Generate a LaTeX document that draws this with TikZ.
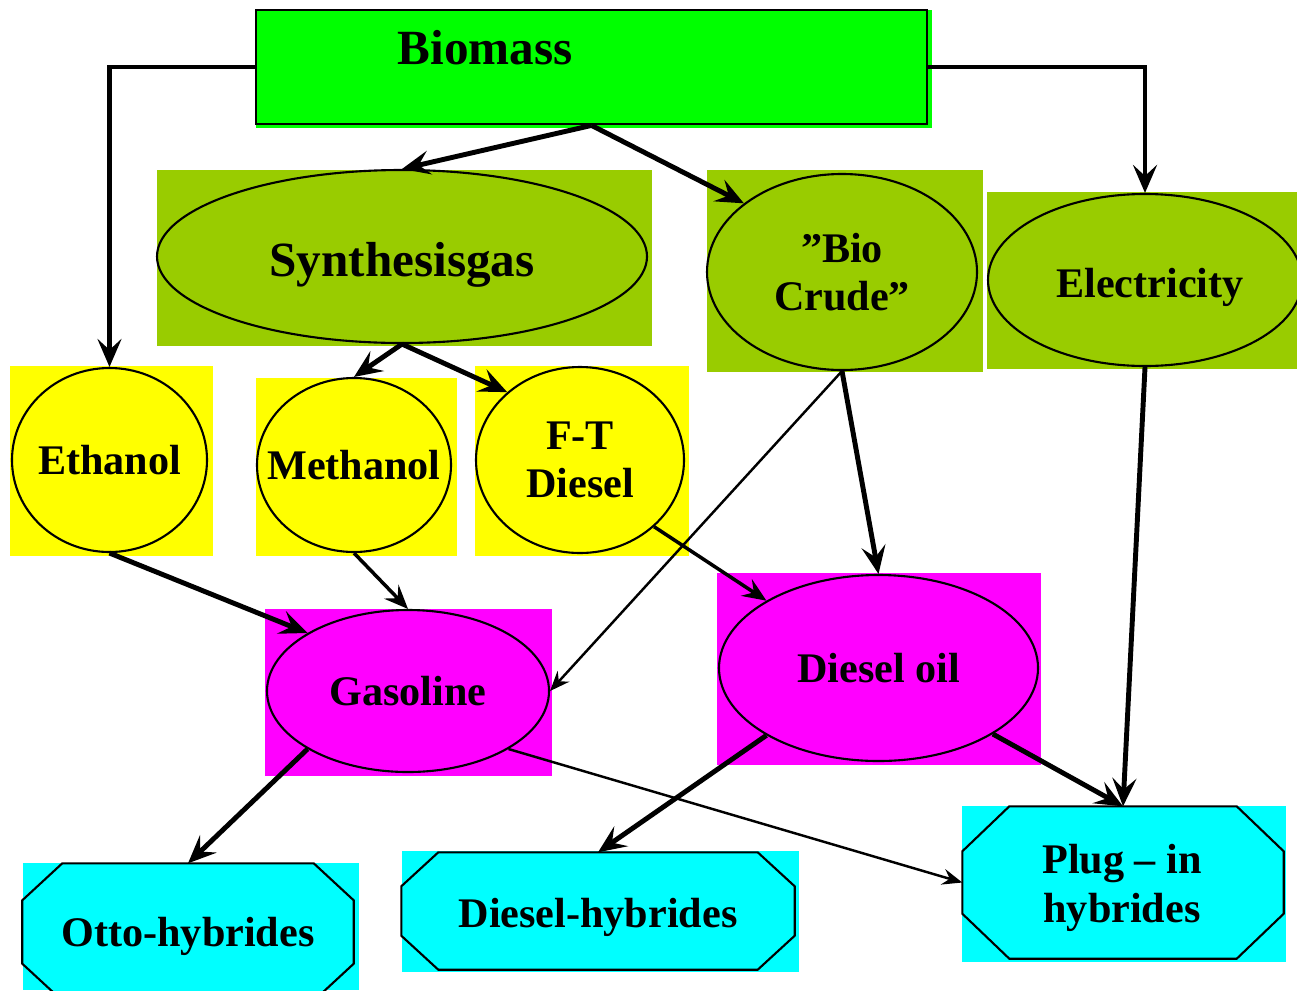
\documentclass[tikz,border=0pt]{standalone}
\usepackage{fontspec}
\setmainfont{Liberation Serif}
\usepackage{tikz}
\usetikzlibrary{arrows.meta,shapes.geometric}
\definecolor{bgreen}{HTML}{00FF00}
\definecolor{olive}{HTML}{99CC00}
\definecolor{yel}{HTML}{FFFF00}
\definecolor{mag}{HTML}{FF00FF}
\definecolor{cya}{HTML}{00FFFF}

% octagon round a named box: node, corner x cut, corner y cut
\newcommand{\octopath}[3]{%
  \draw[line width=0.6pt, fill=cya]
    ([xshift=#2]#1.north west) -- ([xshift=-#2]#1.north east)
    -- ([yshift=-#3]#1.north east) -- ([yshift=#3]#1.south east)
    -- ([xshift=-#2]#1.south east) -- ([xshift=#2]#1.south west)
    -- ([yshift=#3]#1.south west) -- ([yshift=-#3]#1.north west) -- cycle;}

\tikzset{
  oval/.style={ellipse, draw, line width=0.6pt, inner sep=0pt, align=center,
    font=\fontsize{12}{13.8}\selectfont\bfseries},
  hybbox/.style={rectangle, inner sep=0pt, align=center,
    font=\fontsize{12}{13.8}\selectfont\bfseries},
  arr/.style={line width=1.4pt, -{Stealth[length=2.8mm, width=2.4mm, inset=1.1mm]}},
  arrmid/.style={line width=1pt, -{Stealth[length=2.4mm, width=2mm, inset=0.9mm]}},
  arrthin/.style={line width=0.7pt, -{Stealth[length=2mm, width=1.6mm, inset=0.7mm]}}
}

\begin{document}
\begin{tikzpicture}
  \useasboundingbox (0,0) rectangle (12.97,-9.90);
  % coloured backgrounds
  \fill[bgreen] (2.56,-0.10) rectangle (9.32,-1.28);
  \fill[olive] (1.57,-1.70) rectangle (6.52,-3.46);
  \fill[olive] (7.07,-1.70) rectangle (9.83,-3.72);
  \fill[olive] (9.87,-1.92) rectangle (12.97,-3.69);
  \fill[yel] (0.10,-3.66) rectangle (2.13,-5.56);
  \fill[yel] (2.56,-3.78) rectangle (4.57,-5.56);
  \fill[yel] (4.75,-3.66) rectangle (6.89,-5.56);
  \fill[mag] (2.65,-6.09) rectangle (5.52,-7.76);
  \fill[mag] (7.17,-5.73) rectangle (10.41,-7.65);
  \fill[cya] (0.23,-8.63) rectangle (3.59,-9.90);
  \fill[cya] (4.02,-8.51) rectangle (7.99,-9.72);
  \fill[cya] (9.62,-8.06) rectangle (12.86,-9.62);

  % nodes
  \node[draw, fill=bgreen, line width=0.8pt, minimum width=6.71cm, minimum height=1.14cm] (bio) at (5.915,-0.67) {};
  \node[font=\fontsize{14}{16}\selectfont\bfseries] (biotxt) at (4.85,-0.48) {Biomass};
  \node[oval, fill=olive, minimum width=4.90cm, minimum height=1.73cm, font=\fontsize{14}{16}\selectfont\bfseries] (syn) at (4.02,-2.565) {\raisebox{-2mm}[0pt][0pt]{Synthesisgas}};
  \node[oval, fill=olive, minimum width=2.70cm, minimum height=1.96cm] (crude) at (8.42,-2.72) {”Bio\\Crude”};
  \node[oval, fill=olive, minimum width=3.14cm, minimum height=1.72cm] (elec) at (11.45,-2.80) {\makebox[0pt]{\raisebox{-1.7mm}[0pt][0pt]{\hspace{1mm}Electricity}}};
  \node[oval, fill=yel, minimum width=1.95cm, minimum height=1.84cm, inner xsep=-1mm] (eth) at (1.095,-4.60) {Ethanol};
  \node[oval, fill=yel, minimum width=1.94cm, minimum height=1.74cm, inner xsep=-2.2mm] (meth) at (3.54,-4.65) {Methanol};
  \node[oval, fill=yel, minimum width=2.08cm, minimum height=1.86cm] (ftd) at (5.80,-4.60) {F-T\\Diesel};
  \node[oval, fill=mag, minimum width=2.82cm, minimum height=1.62cm] (gas) at (4.08,-6.91) {Gasoline};
  \node[oval, fill=mag, minimum width=3.19cm, minimum height=1.86cm] (dsl) at (8.785,-6.68) {Diesel oil};
  \node[hybbox, minimum width=3.30cm, minimum height=1.36cm] (otto) at (1.88,-9.32) {};
  \octopath{otto}{4mm}{3.7mm}
  \node[hybbox] (ottotxt) at (1.88,-9.36) {Otto-hybrides};
  \node[hybbox, minimum width=3.92cm, minimum height=1.16cm] (dhyb) at (5.98,-9.11) {};
  \octopath{dhyb}{3.7mm}{3.4mm}
  \node[hybbox] (dhybtxt) at (5.98,-9.17) {Diesel-hybrides};
  \node[hybbox, minimum width=3.20cm, minimum height=1.51cm] (plug) at (11.23,-8.825) {};
  \octopath{plug}{4.7mm}{4.5mm}
  \node[hybbox] (plugtxt) at (11.22,-8.88) {Plug – in\\hybrides};

  % connectors
  \draw[arr] (bio.west) -| (eth.north);
  \draw[arr] (bio.east) -| (elec.north);
  \draw[arr] (bio.south) -- (syn.north);
  \draw[arr] (bio.south) -- (crude.145);
  \draw[arr] (syn.south) -- (meth.north);
  \draw[arr] (syn.south) -- (ftd.137);
  \draw[arrthin] (crude.south) -- (gas.east);
  \draw[arr] (crude.south) -- (dsl.north);
  \draw[arr] (elec.south) -- (plug.north);
  \draw[arr] (eth.south) -- (gas.150);
  \draw[arrmid] (meth.south) -- (gas.north);
  \draw[arrmid] (ftd.-42) -- (dsl.149);
  \draw[arr] (gas.210) -- (otto.north);
  \draw[arrthin] (gas.-30) -- (plug.west);
  \draw[arr] (dsl.211) -- (dhyb.north);
  \draw[arr] (dsl.-30) -- (plug.north);
\end{tikzpicture}
\end{document}
